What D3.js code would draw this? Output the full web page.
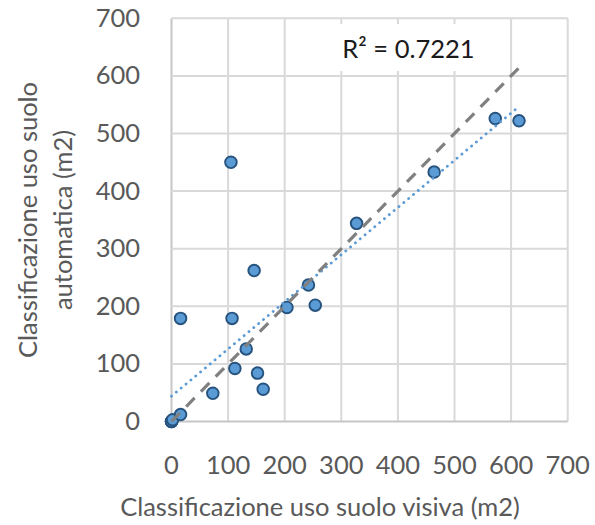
<!DOCTYPE html>
<html>
<head>
<meta charset="utf-8">
<script src="https://cdn.jsdelivr.net/npm/d3@7"></script>
<style>
  body { margin: 0; background: #fff; }
  svg { display: block; }
  text { font-family: Lato, "Open Sans", sans-serif; }
</style>
</head>
<body>
<svg id="chart" width="595" height="525"></svg>
<script>
// Surface per parcel: visual vs automatic land-use classification (m2)
const visiva     = [0, 0, 0, 2, 16, 73, 112, 152, 162, 132, 107, 16, 146, 204, 254, 242, 327, 105, 464, 572, 614];
const automatica = [0, 0, 0, 3, 12, 49, 92, 84, 56, 126, 179, 179, 262, 198, 202, 237, 344, 450, 433, 526, 522];
const xTicks = [0, 100, 200, 300, 400, 500, 600, 700];
const yTicks = [0, 100, 200, 300, 400, 500, 600, 700];
const xTitle = "Classificazione uso suolo visiva (m2)";
const yTitleLines = ["Classificazione uso suolo", "automatica (m2)"];
const r2Value = 0.7221;

const svg = d3.select("#chart");
const x = d3.scaleLinear().domain([0, 700]).range([171.5, 567.7]);
const y = d3.scaleLinear().domain([0, 700]).range([421.5, 18.3]);

const points = visiva.map((v, i) => ({ x: v, y: automatica[i] }));

// Gridlines
const grid = svg.append("g");
grid.selectAll("line.v").data(xTicks).join("line")
  .attr("x1", d => x(d)).attr("x2", d => x(d))
  .attr("y1", y(700)).attr("y2", y(0))
  .attr("stroke", d => d === 0 ? "#c6c6c6" : "#d9d9d9").attr("stroke-width", 2);
grid.selectAll("line.h").data(yTicks).join("line")
  .attr("y1", d => y(d)).attr("y2", d => y(d))
  .attr("x1", x(0)).attr("x2", x(700))
  .attr("stroke", d => d === 0 ? "#c6c6c6" : "#d9d9d9").attr("stroke-width", 2);

// Tick labels
svg.append("g").selectAll("text").data(xTicks).join("text")
  .attr("x", d => x(d)).attr("y", 474)
  .attr("text-anchor", "middle").attr("font-size", 25.5).attr("fill", "#595959")
  .text(d => d);
svg.append("g").selectAll("text").data(yTicks).join("text")
  .attr("x", 140).attr("y", d => y(d) + 8.5)
  .attr("text-anchor", "end").attr("font-size", 25.5).attr("fill", "#595959")
  .text(d => d);

// Axis titles
svg.append("text")
  .attr("x", 320).attr("y", 516)
  .attr("text-anchor", "middle").attr("font-size", 25.5).attr("fill", "#595959")
  .text(xTitle);
const yTitleX = [37, 72];
yTitleLines.forEach((t, i) => {
  svg.append("text")
    .attr("transform", `translate(${yTitleX[i]},220) rotate(-90)`)
    .attr("text-anchor", "middle").attr("font-size", 25.5).attr("fill", "#595959")
    .text(t);
});

// Markers
svg.append("g").selectAll("circle").data(points).join("circle")
  .attr("cx", d => x(d.x)).attr("cy", d => y(d.y))
  .attr("r", 5.8)
  .attr("fill", "#5B9BD5").attr("stroke", "#26527E").attr("stroke-width", 1.9);

// Least-squares linear trendline over the data range
const mx = d3.mean(visiva), my = d3.mean(automatica);
const sxy = d3.sum(points, p => (p.x - mx) * (p.y - my));
const sxx = d3.sum(points, p => (p.x - mx) ** 2);
const slope = sxy / sxx, intercept = my - slope * mx;
const xMin = d3.min(visiva), xMax = d3.max(visiva);
const line = d3.line().x(d => x(d[0])).y(d => y(d[1]));

svg.append("path")
  .attr("d", line([[xMin, intercept + slope * xMin], [xMax, intercept + slope * xMax]]))
  .attr("fill", "none").attr("stroke", "#5B9BD5").attr("stroke-width", 2.8)
  .attr("stroke-linecap", "round").attr("stroke-dasharray", "0.1 6.2");

// 1:1 reference line
svg.append("path")
  .attr("d", line([[xMin, xMin], [xMax, xMax]]))
  .attr("fill", "none").attr("stroke", "#808080").attr("stroke-width", 3.2)
  .attr("stroke-dasharray", "12 9");

// R² label
svg.append("rect")
  .attr("x", 326).attr("y", 24).attr("width", 166).attr("height", 47)
  .attr("fill", "#fff");
svg.append("text")
  .attr("x", 408.5).attr("y", 57.7)
  .attr("text-anchor", "middle").attr("font-size", 25.5).attr("fill", "#1a1a1a")
  .text(`R² = ${r2Value.toFixed(4)}`);
</script>
</body>
</html>
